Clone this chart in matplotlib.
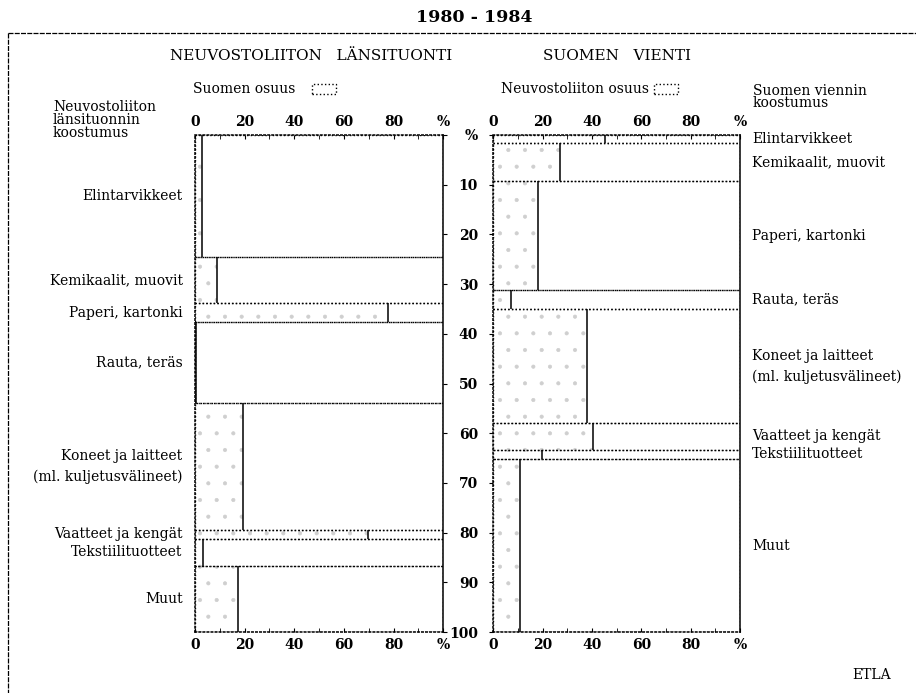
import numpy as np
import matplotlib
matplotlib.use("Agg")
import matplotlib.pyplot as plt
from matplotlib.patches import Rectangle
from matplotlib.lines import Line2D

plt.rcParams['font.family'] = ['DejaVu Serif']
plt.rcParams['hatch.linewidth'] = 0.5

# categories (same order in both panels, top to bottom)
categories = ['Elintarvikkeet', 'Kemikaalit, muovit', 'Paperi, kartonki',
              'Rauta, teräs', 'Koneet ja laitteet\n(ml. kuljetusvälineet)',
              'Vaatteet ja kengät', 'Tekstiilituotteet', 'Muut']

# Soviet western imports: composition (% of total) and Finland's share (%)
imp_size = [24.5, 9.4, 3.7, 16.4, 25.5, 1.7, 5.5, 13.3]
imp_fin_share = [2.7, 8.7, 77.7, 0.5, 19.5, 69.6, 3.3, 17.4]

# Finnish exports: composition (% of total) and Soviet share (%)
exp_size = [1.7, 7.6, 21.9, 3.9, 22.9, 5.3, 1.9, 34.8]
exp_su_share = [45.3, 27.0, 18.0, 7.0, 37.8, 40.5, 19.6, 10.8]

x_ticks = [0, 20, 40, 60, 80, 100]
x_ticklabels = ['0', '20', '40', '60', '80', '%']
y_ticks = list(range(0, 101, 10))
y_ticklabels = ['%'] + [str(v) for v in range(10, 101, 10)]


def draw_panel(ax, sizes, shares):
    tops = np.concatenate([[0], np.cumsum(sizes)[:-1]])
    # full-width bands with dotted borders
    ax.barh(tops, 100, height=sizes, align='edge', facecolor='none',
            edgecolor='black', linestyle=':', linewidth=1.0, zorder=2)
    # stippled share bars
    ax.barh(tops, shares, height=sizes, align='edge', facecolor='white',
            edgecolor='#cfcfcf', hatch='.', linewidth=0, zorder=1)
    # solid line at the share end
    ax.vlines(shares, tops, tops + np.array(sizes), color='black',
              linewidth=1.1, zorder=3)
    ax.set_xlim(0, 100)
    ax.set_ylim(100, 0)
    for s in ax.spines.values():
        s.set_linewidth(1.1)
    ax.spines['top'].set_linestyle(':')
    ax.spines['bottom'].set_linestyle(':')
    ax.set_xticks(x_ticks)
    ax.set_xticks(range(10, 100, 20), minor=True)
    ax.tick_params(axis='x', which='both', top=True, bottom=True,
                   labeltop=True, labelbottom=True, direction='in',
                   length=3, labelsize=10, pad=4)
    ax.set_xticklabels(x_ticklabels, fontweight='bold')
    return tops


fig = plt.figure(figsize=(9.16, 6.93), dpi=100)
W, H = 916.0, 693.0
ax1 = fig.add_axes([195 / W, 1 - 632 / H, 248.3 / W, 497 / H])
ax2 = fig.add_axes([493.3 / W, 1 - 632 / H, 246.7 / W, 497 / H])

tops1 = draw_panel(ax1, imp_size, imp_fin_share)
tops2 = draw_panel(ax2, exp_size, exp_su_share)

# middle y axis
ax1.yaxis.tick_right()
ax1.set_yticks(y_ticks)
ax1.set_yticklabels([])
ax1.tick_params(axis='y', direction='out', length=3)
ax2.set_yticks(y_ticks)
ax2.set_yticklabels(y_ticklabels, fontweight='bold', fontsize=10)
ax2.tick_params(axis='y', direction='out', length=3, pad=8)
ax1.spines['left'].set_linestyle(':')
ax2.spines['left'].set_linestyle(':')

# category labels
for t, s, lab in zip(tops1, imp_size, categories):
    ax1.text(-5, t + s / 2, lab, ha='right', va='center', fontsize=10,
             linespacing=1.55)
for t, s, lab in zip(tops2, exp_size, categories):
    ax2.text(105, t + s / 2, lab, ha='left', va='center', fontsize=10,
             linespacing=1.55)

# titles and headings
fig.text(474 / W, 1 - 18 / H, '1980 - 1984', ha='center', va='center',
         fontsize=12.5, fontweight='bold')
fig.text(170 / W, 1 - 56 / H, 'NEUVOSTOLIITON   LÄNSITUONTI', ha='left',
         va='center', fontsize=11)
fig.text(543 / W, 1 - 56 / H, 'SUOMEN   VIENTI', ha='left', va='center',
         fontsize=11)
fig.text(53 / W, 1 - 120 / H, 'Neuvostoliiton\nlänsituonnin\nkoostumus',
         ha='left', va='center', fontsize=10, linespacing=0.9)
fig.text(753 / W, 1 - 97 / H, 'Suomen viennin\nkoostumus', ha='left',
         va='center', fontsize=10, linespacing=0.9)
fig.text(193 / W, 1 - 89 / H, 'Suomen osuus', ha='left', va='center',
         fontsize=10)
fig.text(501 / W, 1 - 89 / H, 'Neuvostoliiton osuus', ha='left',
         va='center', fontsize=10)
for bx in (312, 654):
    fig.patches.append(Rectangle((bx / W, 1 - 94 / H), 24 / W, 10 / H,
                                 transform=fig.transFigure, facecolor='none',
                                 edgecolor='black', linestyle=':',
                                 linewidth=1.0))
fig.text(872 / W, 1 - 675 / H, 'ETLA', ha='center', va='center',
         fontsize=10)

# outer frame
fig.add_artist(Line2D([8 / W, 1.0], [1 - 33 / H, 1 - 33 / H],
                      transform=fig.transFigure, color='black',
                      linewidth=0.9, linestyle=(0, (4, 1))))
fig.add_artist(Line2D([8 / W, 8 / W], [1 - 33 / H, 0.0],
                      transform=fig.transFigure, color='black',
                      linewidth=0.9, linestyle=(0, (4, 1))))

fig.savefig('out.png', dpi=100, facecolor='white')
